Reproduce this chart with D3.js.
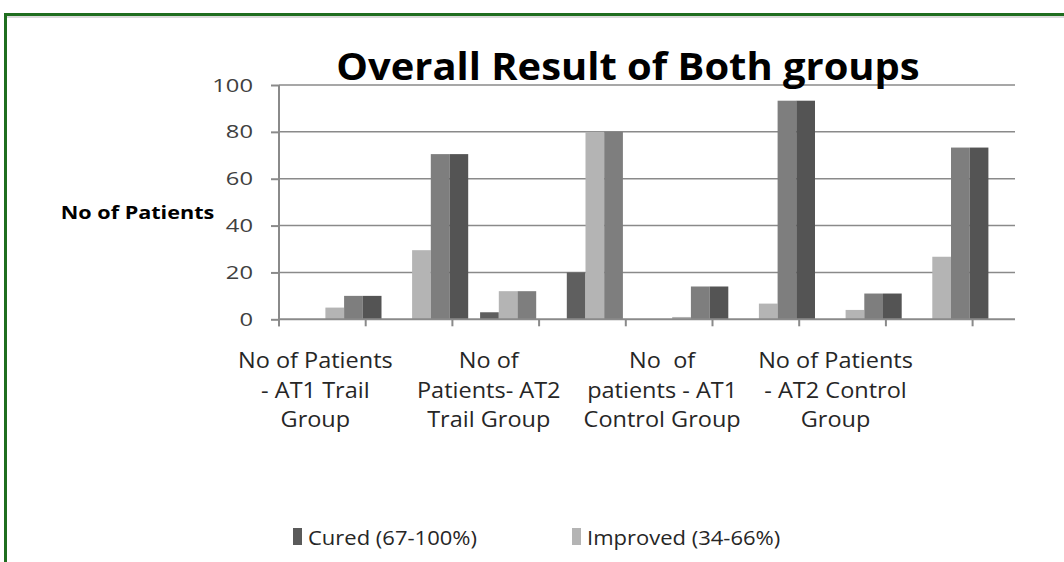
<!DOCTYPE html>
<html>
<head>
<meta charset="utf-8">
<script src="https://cdn.jsdelivr.net/npm/d3@7"></script>
<style>
  html, body { margin: 0; padding: 0; background: #fff; }
  svg { display: block; }
  text { font-family: "Open Sans", "Noto Sans", sans-serif; white-space: pre; }
</style>
</head>
<body>
<div id="chart"></div>
<script>
"use strict";

/* ── Data ── */
const categories = [
  ["No of Patients", "- AT1 Trail", "Group"],
  [""],
  ["No of", "Patients- AT2", "Trail Group"],
  [""],
  ["No  of", "patients - AT1", "Control Group"],
  [""],
  ["No of Patients", "- AT2 Control", "Group"],
  [""]
];
const cured    = [0, 0, 3, 20, 0, 0, 0, 0];
const improved = [5, 29.5, 12, 80, 1, 6.7, 4, 26.7];
const seriesC  = [10, 70.5, 12, 80, 14, 93.3, 11, 73.3];
const seriesD  = [10, 70.5, 0, 0, 14, 93.3, 11, 73.3];
const yTicks   = [0, 20, 40, 60, 80, 100];
const legendItems = [
  { label: "Cured (67-100%)",    colour: "#5a5a5a" },
  { label: "Improved (34-66%)",  colour: "#b4b4b4" }
];

const series = [
  { values: cured,    colour: "#5f5f5f" },
  { values: improved, colour: "#b4b4b4" },
  { values: seriesC,  colour: "#7e7e7e" },
  { values: seriesD,  colour: "#545454" }
];

/* ── Dimensions ── */
const W = 1064, H = 562;
const plot = { left: 279, right: 1015, top: 85, bottom: 319.3 };
const bandW = 86.7;

const svg = d3.select("#chart").append("svg")
  .attr("width", W).attr("height", H);

/* ── Frame ── */
svg.append("rect")
  .attr("x", 5.5).attr("y", 14.5)
  .attr("width", W + 20).attr("height", H + 20)
  .attr("fill", "none").attr("stroke", "#1f6e1f").attr("stroke-width", 3);
svg.append("line")
  .attr("x1", 7).attr("x2", W).attr("y1", 17).attr("y2", 17)
  .attr("stroke", "#b8b8b8").attr("stroke-width", 1);

/* ── Scales ── */
const idx = d3.range(categories.length);
const x = d3.scaleBand().domain(idx)
  .range([plot.left, plot.left + bandW * categories.length]).padding(0);
const slot = d3.scaleBand().domain(d3.range(series.length)).range([0, 74.8]).padding(0);
const barOffset = 27.7;
const y = d3.scaleLinear().domain([0, 100]).range([plot.bottom, plot.top]);

// text in the picture is stretched sideways, so each label gets its own x-scale
function stretched(parent, px, py, sx) {
  return parent.append("g").attr("transform", `translate(${px},${py}) scale(${sx},1)`)
    .append("text");
}

/* ── Gridlines ── */
svg.append("g")
  .selectAll("line")
  .data(yTicks.filter(t => t > 0))
  .join("line")
  .attr("x1", plot.left).attr("x2", plot.right)
  .attr("y1", d => y(d)).attr("y2", d => y(d))
  .attr("stroke", "#8a8a8a").attr("stroke-width", 1.5);

/* ── Bars ── */
const barG = svg.append("g");
series.forEach((s, si) => {
  barG.selectAll(null)
    .data(s.values.map((v, i) => ({ v, i })))
    .join("rect")
    .attr("x", d => x(d.i) + barOffset + slot(si))
    .attr("width", slot.bandwidth())
    .attr("y", d => y(d.v))
    .attr("height", d => y(0) - y(d.v))
    .attr("fill", s.colour);
});

/* ── Axes ── */
svg.append("line")
  .attr("x1", plot.left).attr("x2", plot.right)
  .attr("y1", plot.bottom).attr("y2", plot.bottom)
  .attr("stroke", "#8a8a8a").attr("stroke-width", 2);

// category tick marks sit on band boundaries
svg.append("g").selectAll("line")
  .data(d3.range(categories.length + 1))
  .join("line")
  .attr("x1", d => plot.left + d * x.step()).attr("x2", d => plot.left + d * x.step())
  .attr("y1", plot.bottom).attr("y2", plot.bottom + 7)
  .attr("stroke", "#8a8a8a").attr("stroke-width", 2);

svg.append("g")
  .attr("transform", `translate(${plot.left},0)`)
  .call(d3.axisLeft(y).tickValues(yTicks).tickSize(8).tickFormat(""))
  .call(g => {
    g.select(".domain").attr("stroke", "#8a8a8a").attr("stroke-width", 2)
      .attr("d", `M-0,${plot.top}V${plot.bottom + 7}`);
    g.selectAll(".tick line").attr("stroke", "#8a8a8a").attr("stroke-width", 2);
  });

/* ── Y tick labels ── */
yTicks.forEach(t => {
  stretched(svg, 253, y(t) + 6.5, 1.32)
    .attr("text-anchor", "end")
    .attr("font-size", "18px").attr("fill", "#404040")
    .text(t);
});

/* ── Category labels (every other category, as in the picture) ── */
idx.filter(i => i % 2 === 0).forEach(i => {
  const cx = x(i) + x.bandwidth() / 2 - 7;
  categories[i].forEach((line, li) => {
    stretched(svg, cx, 368 + li * 29.5, 1.12)
      .attr("text-anchor", "middle")
      .attr("font-size", "21px").attr("fill", "#262626")
      .text(line);
  });
});

/* ── Titles ── */
stretched(svg, 628, 80, 1.05)
  .attr("text-anchor", "middle")
  .attr("font-size", "38px").attr("font-weight", "bold").attr("fill", "#000")
  .text("Overall Result of Both groups");

stretched(svg, 137.5, 219, 1.2)
  .attr("text-anchor", "middle")
  .attr("font-size", "18px").attr("font-weight", "bold").attr("fill", "#000")
  .text("No of Patients");

/* ── Legend ── */
const legendX = [293, 572];
legendItems.forEach((item, i) => {
  svg.append("rect")
    .attr("x", legendX[i]).attr("y", 528)
    .attr("width", 9).attr("height", 17)
    .attr("fill", item.colour);
  stretched(svg, legendX[i] + 15, 545, 1.1)
    .attr("font-size", "20px").attr("fill", "#262626")
    .text(item.label);
});
</script>
</body>
</html>
